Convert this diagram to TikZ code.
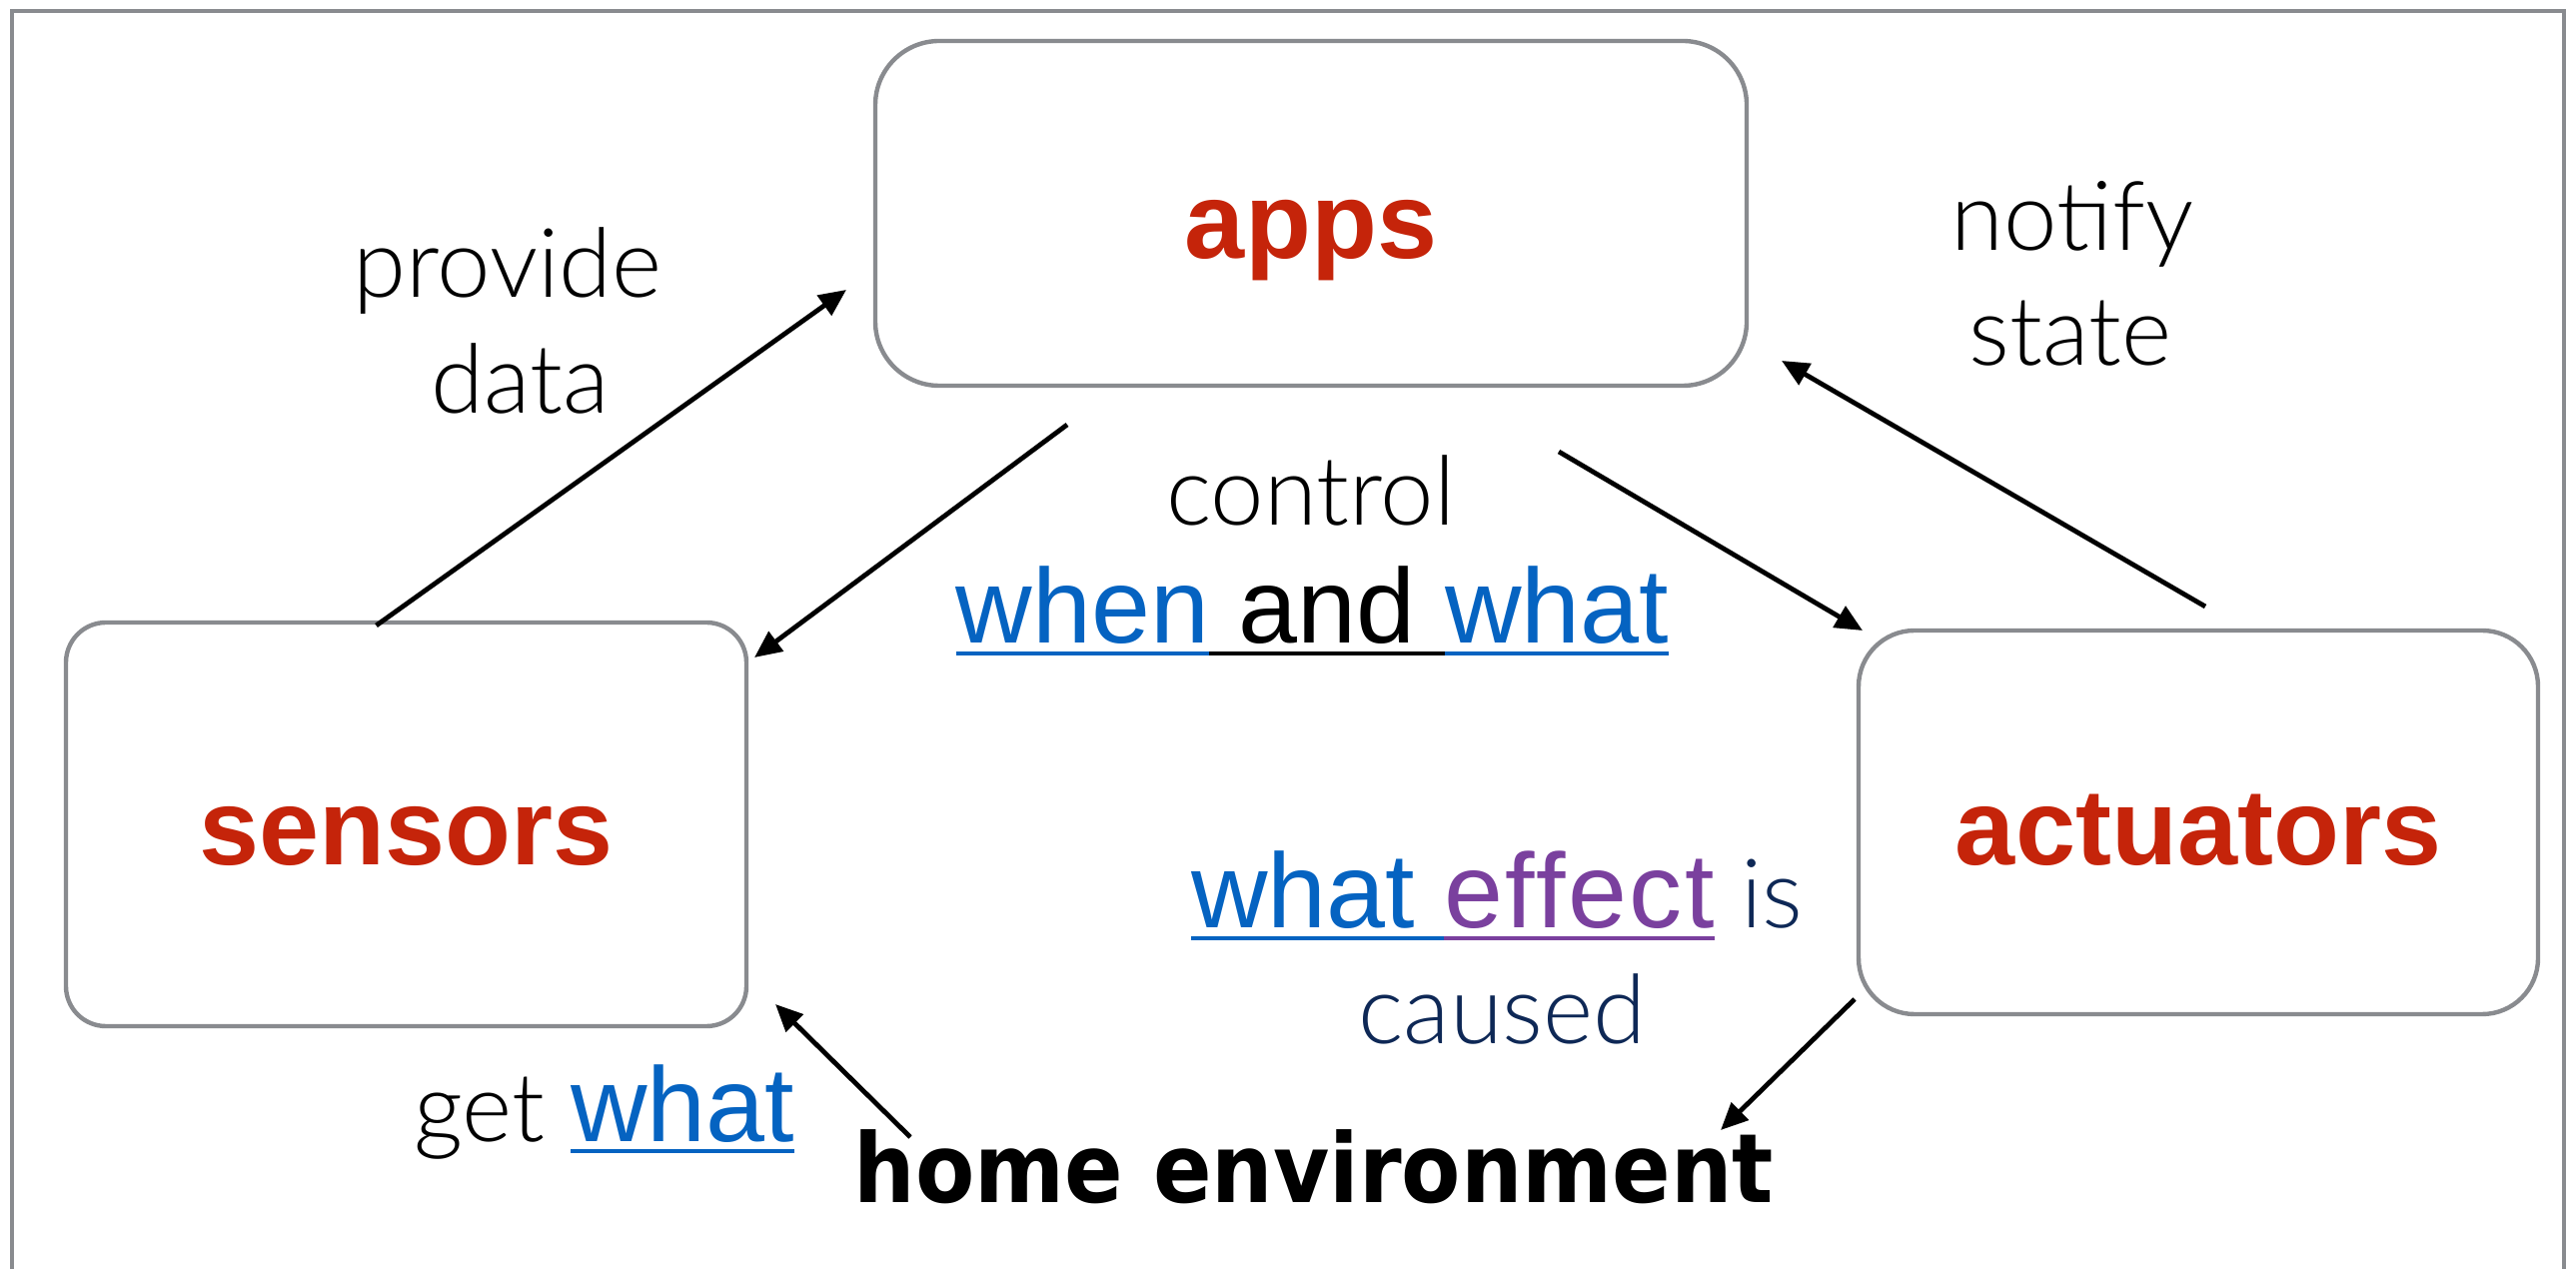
\documentclass[tikz,border=0pt]{standalone}
\usepackage{fontspec}
\setmainfont{Liberation Sans}
\newfontfamily\lightfont{Lato Light}
\newfontfamily\envfont{DejaVu Sans}[FakeStretch=0.9]
\usetikzlibrary{arrows.meta,calc}

\definecolor{boxred}{RGB}{197,36,10}
\definecolor{linkblue}{RGB}{5,99,193}
\definecolor{effpurple}{RGB}{122,64,158}
\definecolor{navy}{RGB}{14,40,86}
\definecolor{framegray}{RGB}{137,139,143}

% underline a piece of text with a rule of the given colour
\newcommand\ulbox[2]{\begingroup\sbox0{#2}\rlap{\textcolor{#1}{\rule[-3pt]{\wd0}{1pt}}}\usebox0\endgroup}
% thin running text of the edge labels
\newcommand\thin{\lightfont\fontsize{24pt}{28pt}\selectfont}

\begin{document}
\begin{tikzpicture}[x=0.25pt,y=-0.25pt,
  unit/.style={draw=framegray, line width=1.1pt, fill=white, inner sep=0pt, outer sep=0pt,
    font=\fontsize{27pt}{32pt}\selectfont\bfseries, text=boxred, text depth=0pt},
  lbl/.style={inner sep=0pt, outer sep=0pt, anchor=base, font=\thin},
  link/.style={inner sep=0pt, outer sep=0pt, anchor=base west, font=\fontsize{26.5pt}{30pt}\selectfont},
  flow/.style={line width=1.2pt, -{Triangle[length=6.8pt,width=6pt]}},
]
\useasboundingbox (0,0) rectangle (2578,1270);
\clip (0,0) rectangle (2578,1270);

% outer frame (open at the bottom edge)
\draw[framegray, line width=1pt] (12,1300) -- (12,11) -- (2566,11) -- (2566,1300);

% the three components
\node[unit, minimum width=218pt, minimum height=86.25pt, rounded corners=16pt, text height=22.75pt]
  (apps) at (1312,213.5) {apps};
\node[unit, minimum width=170.25pt, minimum height=101pt, rounded corners=10pt, text height=20.5pt]
  (sensors) at (406.5,825) {sensors};
\node[unit, minimum width=170pt, minimum height=96pt, rounded corners=14pt, text height=21.5pt]
  (actuators) at (2200,823) {actuators};

% the environment
\node[inner sep=0pt, outer sep=0pt, anchor=base, font=\envfont\fontsize{24pt}{28pt}\selectfont\bfseries]
  (home) at (1315,1203) {home environment};

% edge labels
\node[lbl] (provide) at (508,298) {provide};
\node[lbl] (data) at (521,414) {data};
\node[lbl] (notify) at (2074,251) {notify};
\node[lbl] (state) at (2072,366) {state};
\node[lbl] (control) at (1312,526) {control};
\node[link, anchor=base] (whenwhat) at (1313.5,644)
  {\ulbox{linkblue}{\color{linkblue}when}\ulbox{black}{ and }\ulbox{linkblue}{\color{linkblue}what}};
\node[link] (effect) at (1192,929)
  {\ulbox{linkblue}{\color{linkblue}what }\ulbox{effpurple}{\addfontfeature{LetterSpace=2.5}\color{effpurple}effect}{\thin\color{navy}\ is}};
\node[lbl, text=navy] (caused) at (1503.5,1045) {caused};
\node[link] (getwhat) at (414,1142)
  {{\thin get\ }\ulbox{linkblue}{\color{linkblue}what}};

% flows between components
\draw[flow] ($(sensors.north)+(-30,3)$) -- ($(apps.west)+(-29,76.5)$);
\draw[flow] ($(apps.south)+(-244,39)$) -- ($(sensors.north east)+(8,35)$);
\draw[flow] ($(apps.south)+(248,66)$) -- ($(actuators.north west)+(4,0)$);
\draw[flow] ($(actuators.north)+(7,-24)$) -- ($(apps.east)+(35,147.5)$);
\draw[flow] ($(actuators.south west)+(-4,-15)$) -- ($(home.base)+(407,-72)$);
\draw[flow] ($(home.base)+(-404,-65)$) -- ($(sensors.south east)+(29,-22)$);
\end{tikzpicture}
\end{document}
